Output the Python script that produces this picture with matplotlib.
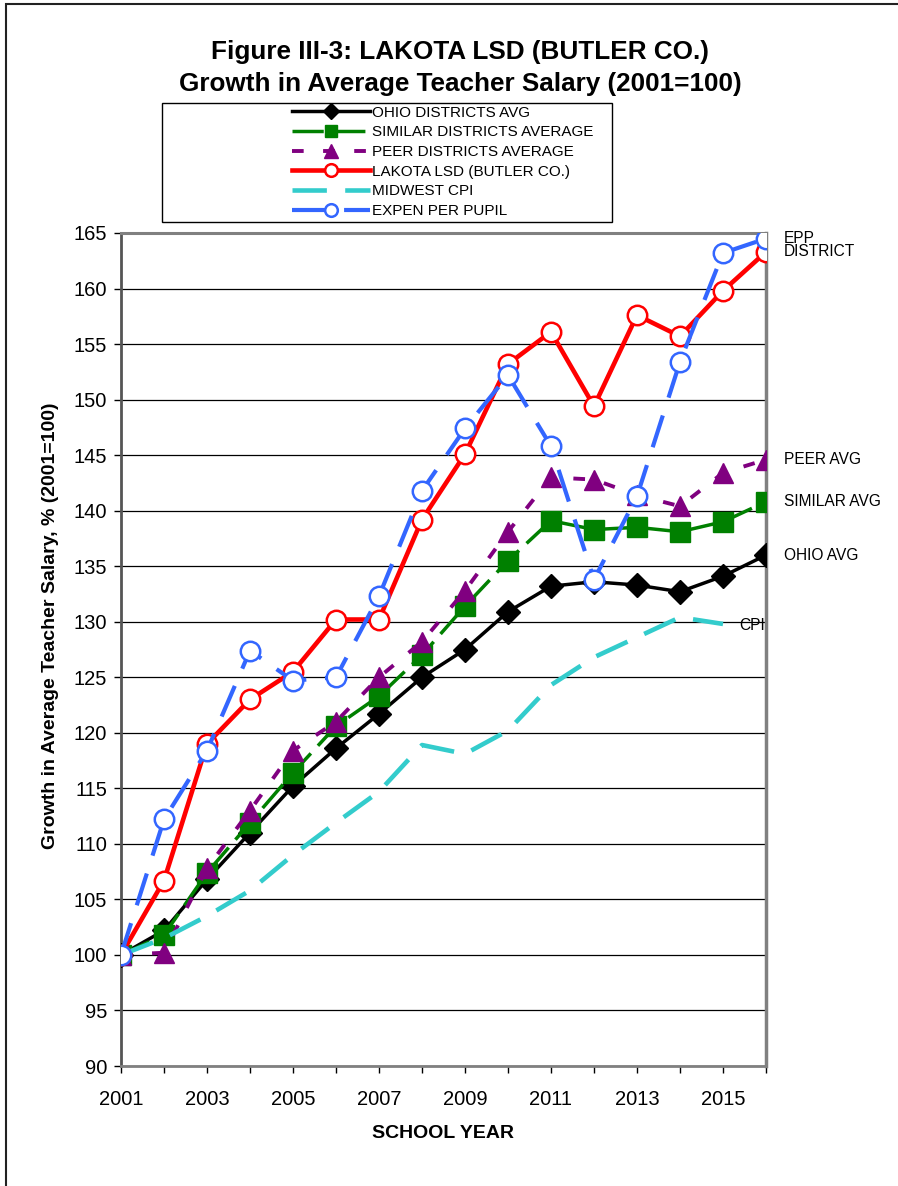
"""
Figure III-3 — Lakota LSD growth in average teacher salary (2001=100).
"""

import matplotlib
matplotlib.use('Agg')
import matplotlib.pyplot as plt
from matplotlib.patches import Rectangle

# ── Data ──────────────────────────────────────────────────────
years = list(range(2001, 2017))

ohio = [100.0, 102.2, 106.8, 111.0, 115.2, 118.6, 121.7, 125.0,
        127.5, 130.9, 133.2, 133.6, 133.3, 132.7, 134.1, 136.0]
similar = [100.0, 101.8, 107.4, 111.9, 116.4, 120.6, 123.3, 127.0,
           131.4, 135.5, 139.1, 138.3, 138.5, 138.1, 139.0, 140.8]
peer = [100.0, 100.2, 107.8, 113.0, 118.4, 121.0, 125.0, 128.2,
        132.8, 138.1, 143.0, 142.8, 141.4, 140.4, 143.4, 144.6]
lakota = [100.0, 106.7, 119.0, 123.0, 125.5, 130.2, 130.2, 139.2,
          145.1, 153.2, 156.1, 149.4, 157.6, 155.7, 159.8, 163.3]
cpi_years = list(range(2001, 2016))
cpi = [100.0, 101.5, 103.5, 105.8, 109.0, 111.9, 114.7, 118.9,
       118.1, 120.2, 124.3, 126.8, 128.6, 130.4, 129.8]
epp = [100.0, 112.2, 118.4, 127.4, 124.7, 125.0, 132.3, 141.8,
       147.4, 152.2, 145.8, 133.8, 141.3, 153.4, 163.2, 164.5]

labels = ['OHIO DISTRICTS AVG', 'SIMILAR DISTRICTS AVERAGE',
          'PEER DISTRICTS AVERAGE', 'LAKOTA LSD (BUTLER CO.)',
          'MIDWEST CPI', 'EXPEN PER PUPIL']

end_labels = [('EPP', epp[-1]), ('DISTRICT', lakota[-1]),
              ('PEER AVG', peer[-1]), ('SIMILAR AVG', similar[-1]),
              ('OHIO AVG', ohio[-1])]

# ── Figure ────────────────────────────────────────────────────
plt.rcParams.update({
    'font.family': ['Liberation Sans', 'DejaVu Sans'],
    'font.size': 14,
})

W, H = 898, 1186
fig = plt.figure(figsize=(W / 100, H / 100), dpi=100)
ax = fig.add_axes([121 / W, 1 - 1066 / H, (766 - 121) / W, (1066 - 233) / H])

# outer frame (open to right/bottom like the cropped source)
fig.patches.append(Rectangle((6 / W, -0.05), 1.2, 1 - 4 / H + 0.05,
                             transform=fig.transFigure, fill=False,
                             edgecolor='#222222', linewidth=1.5))

# ── Series ────────────────────────────────────────────────────
ax.plot(years, ohio, color='black', lw=2.5, marker='D', ms=12,
        label=labels[0], zorder=3)
ax.plot(years, similar, color='#008000', lw=2.5, dashes=(9, 3),
        marker='s', ms=14, label=labels[1], zorder=4)
ax.plot(years, peer, color='#800080', lw=2.8, dashes=(3, 5),
        marker='^', ms=15, label=labels[2], zorder=5)
ax.plot(years, lakota, color='#ff0000', lw=3.3, marker='o', ms=14,
        mfc='white', mec='#ff0000', mew=1.8, label=labels[3], zorder=6)
ax.plot(cpi_years, cpi, color='#33cccc', lw=3.3, dashes=(7.5, 4),
        label=labels[4], zorder=6)
ax.plot(years, epp, color='#3366ff', lw=3, dashes=(8, 4.5), marker='o',
        ms=14, mfc='white', mec='#3366ff', mew=1.8, label=labels[5],
        zorder=7)

for txt, yv in end_labels:
    ax.text(2016.42, yv, txt, fontsize=11.2, va='center', ha='left',
            clip_on=False)
ax.text(2015.37, cpi[-1] - 0.1, 'CPI', fontsize=11.2, va='center', ha='left')

# ── Axes ──────────────────────────────────────────────────────
ax.set_xlim(2001, 2016)
ax.set_ylim(90, 165)
ax.set_xticks(years)
ax.set_xticklabels([str(y) if y % 2 == 1 else '' for y in years])
ax.set_yticks(range(90, 166, 5))
ax.tick_params(direction='out', length=5, width=1, labelsize=14.5, pad=5)
ax.tick_params(axis='x', pad=12)

ax.grid(True, axis='y', color='black', lw=0.9)
ax.set_axisbelow(True)
for side, lw in [('left', 2), ('bottom', 2), ('top', 2.2), ('right', 2.5)]:
    ax.spines[side].set_color('#808080' if side != 'left' else '#555555')
    ax.spines[side].set_linewidth(lw)

fig.text(51 / W, 1 - 626 / H, 'Growth in Average Teacher Salary, % (2001=100)',
         rotation=90, ha='center', va='center', fontsize=14, fontweight='bold')
ax.set_xlabel('SCHOOL YEAR', fontsize=14, fontweight='bold', labelpad=12)

fig.text(460 / W, 1 - 68 / H,
         'Figure III-3: LAKOTA LSD (BUTLER CO.)\n'
         'Growth in Average Teacher Salary (2001=100)',
         ha='center', va='center', fontsize=18.8, fontweight='bold',
         linespacing=1.4)

# legend: box drawn separately, entries placed inside it
fig.patches.append(Rectangle((162 / W, 1 - 222 / H), (612 - 162) / W,
                             (222 - 103) / H, transform=fig.transFigure,
                             fill=False, edgecolor='black', linewidth=1))
leg = ax.legend(loc='upper left', bbox_to_anchor=(284 / W, 1 - 98 / H),
                bbox_transform=fig.transFigure, frameon=False,
                fontsize=11, handlelength=5.1, handletextpad=0.13,
                labelspacing=0.37, borderpad=0, markerscale=0.65)

plt.savefig('out.png', dpi=100, facecolor='white')
plt.close()

print("out.png saved")
